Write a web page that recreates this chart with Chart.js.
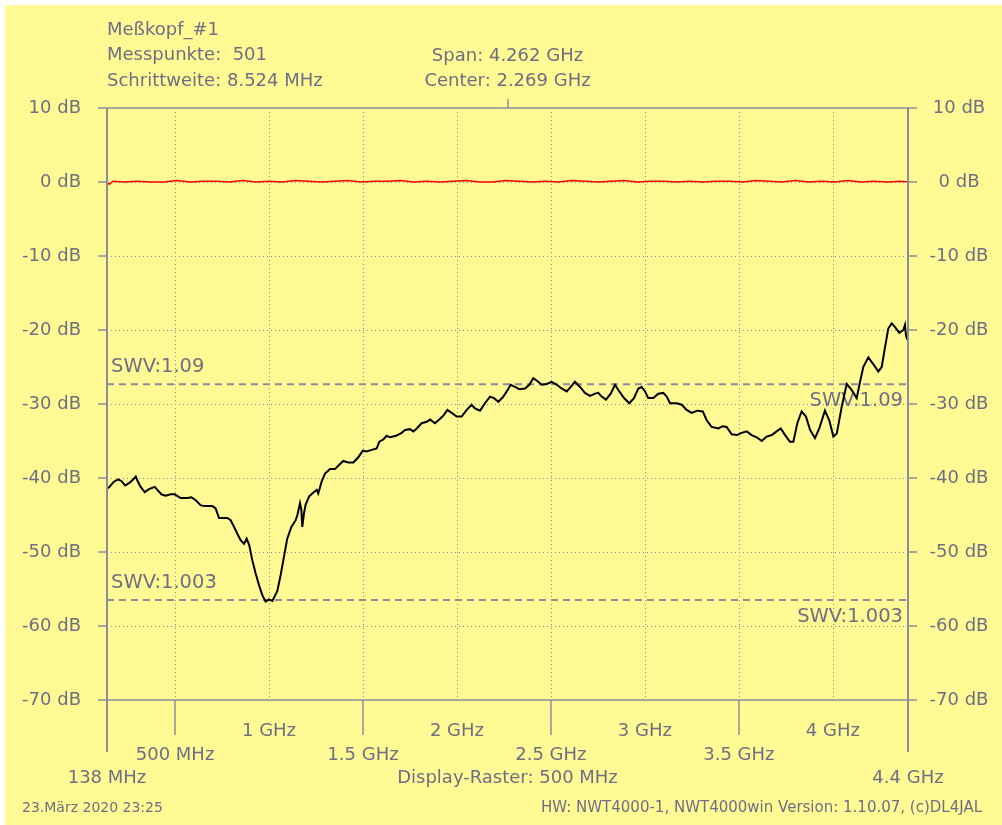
<!DOCTYPE html>
<html>
<head>
<meta charset="utf-8">
<script src="https://cdn.jsdelivr.net/npm/chart.js@4/dist/chart.umd.min.js"></script>
<style>
  html, body { margin: 0; padding: 0; background: #fff; }
  #wrap { width: 1002px; height: 825px; }
</style>
</head>
<body>
<div id="wrap"><canvas id="nwt" width="1002" height="825"></canvas></div>
<script>
// --------------------
// Data read off the sweep
// --------------------
const sweepMHz = [
  143, 158, 175, 197, 214, 235, 255, 273, 291, 299, 317, 339, 361, 392, 406, 427, 450, 477, 498, 530,
  565, 587, 610, 637, 663, 698, 716, 734, 751, 778, 796, 814, 831, 849, 867, 881, 895, 911, 929, 947,
  964, 982, 1000, 1018, 1030, 1044, 1062, 1080, 1097, 1119, 1142, 1151, 1165, 1172, 1177, 1186, 1195, 1213, 1230, 1254,
  1262, 1280, 1298, 1325, 1351, 1374, 1395, 1422, 1449, 1475, 1499, 1520, 1546, 1573, 1587, 1608, 1626, 1644, 1676, 1706,
  1724, 1750, 1768, 1786, 1812, 1839, 1857, 1883, 1906, 1927, 1949, 1972, 1999, 2025, 2052, 2078, 2096, 2123, 2149, 2176,
  2197, 2220, 2247, 2265, 2286, 2309, 2332, 2362, 2385, 2406, 2428, 2451, 2478, 2504, 2531, 2557, 2584, 2605, 2628, 2655,
  2681, 2708, 2735, 2752, 2770, 2793, 2818, 2841, 2864, 2889, 2917, 2942, 2965, 2983, 3001, 3018, 3045, 3071, 3098, 3116,
  3134, 3169, 3196, 3222, 3249, 3279, 3308, 3329, 3355, 3391, 3414, 3435, 3462, 3489, 3515, 3542, 3568, 3595, 3622, 3648,
  3675, 3701, 3723, 3746, 3772, 3790, 3811, 3834, 3857, 3879, 3905, 3928, 3958, 3981, 4003, 4021, 4047, 4074, 4100, 4127,
  4145, 4162, 4189, 4215, 4242, 4260, 4278, 4295, 4313, 4331, 4354, 4375, 4384, 4389, 4396
];
const sweepDb = [
  -41.4, -41.0, -40.5, -40.2, -40.4, -41.0, -40.7, -40.3, -39.8, -40.3, -41.2, -41.9, -41.5, -41.2, -41.6, -42.2, -42.4, -42.2, -42.2, -42.7,
  -42.7, -42.6, -43.0, -43.7, -43.8, -43.8, -44.1, -45.4, -45.4, -45.4, -45.7, -46.6, -47.5, -48.4, -48.9, -48.2, -49.1, -51.1, -52.9, -54.5,
  -55.8, -56.7, -56.4, -56.6, -56.0, -55.3, -53.1, -50.6, -48.2, -46.6, -45.7, -45.0, -43.4, -44.3, -46.6, -44.8, -43.6, -42.5, -42.1, -41.6,
  -42.1, -40.5, -39.4, -38.8, -38.8, -38.2, -37.7, -37.9, -37.9, -37.2, -36.3, -36.4, -36.2, -36.0, -35.1, -34.8, -34.3, -34.5, -34.3, -33.9,
  -33.5, -33.4, -33.7, -33.3, -32.6, -32.4, -32.1, -32.6, -32.1, -31.6, -30.8, -31.2, -31.7, -31.7, -30.8, -30.1, -30.6, -30.9, -29.9, -29.0,
  -29.2, -29.7, -29.0, -28.3, -27.4, -27.7, -28.0, -27.9, -27.4, -26.5, -26.9, -27.4, -27.3, -27.0, -27.4, -27.9, -28.3, -27.7, -27.0, -27.7,
  -28.5, -28.9, -28.6, -28.5, -29.0, -29.4, -28.6, -27.4, -28.3, -29.2, -29.9, -29.2, -27.9, -27.7, -28.3, -29.2, -29.2, -28.6, -28.5, -29.0,
  -29.9, -29.9, -30.1, -30.8, -31.2, -30.9, -31.0, -32.2, -33.1, -33.3, -33.0, -33.1, -34.1, -34.2, -33.9, -33.7, -34.2, -34.5, -35.0, -34.4,
  -34.2, -33.7, -33.3, -34.2, -35.1, -35.1, -32.6, -31.0, -31.7, -33.5, -34.6, -33.3, -30.9, -32.2, -34.4, -34.0, -30.4, -27.3, -28.1, -29.2,
  -27.0, -25.0, -23.7, -24.6, -25.6, -25.0, -22.3, -19.8, -19.1, -19.6, -20.4, -20.0, -19.3, -20.7, -21.3
];

// reference (through) trace, sits on 0 dB
const refMHz = [
  138, 150, 170, 230, 300, 370, 440, 510, 580, 650, 720, 790, 860, 930, 1000, 1070, 1140, 1210, 1280, 1350,
  1420, 1490, 1560, 1630, 1700, 1770, 1840, 1910, 1980, 2050, 2120, 2190, 2260, 2330, 2400, 2470, 2540, 2610, 2680, 2750,
  2820, 2890, 2960, 3030, 3100, 3170, 3240, 3310, 3380, 3450, 3520, 3590, 3660, 3730, 3800, 3870, 3940, 4010, 4080, 4150,
  4220, 4290, 4360, 4400
];
const refDb = [
  0.0, -0.3, 0.1, 0.0, 0.1, 0.0, 0.0, 0.2, 0.0, 0.1, 0.1, 0.0, 0.2, 0.0, 0.1, 0.0, 0.2, 0.1, 0.0, 0.1,
  0.2, 0.0, 0.1, 0.1, 0.2, 0.0, 0.1, 0.0, 0.1, 0.2, 0.0, 0.0, 0.2, 0.1, 0.0, 0.1, 0.0, 0.2, 0.1, 0.0,
  0.1, 0.2, 0.0, 0.1, 0.1, 0.0, 0.1, 0.0, 0.1, 0.1, 0.0, 0.2, 0.1, 0.0, 0.2, 0.0, 0.1, 0.0, 0.2, 0.0,
  0.1, 0.0, 0.1, 0.0
];

// SWV marker lines (return loss in dB)
const swvLabels = ["SWV:1.09", "SWV:1.003"];
const swvDb = [-27.32, -56.49];

// axes
const yTicks = [10, 0, -10, -20, -30, -40, -50, -60, -70];
const yTickLabels = ["10 dB", "0 dB", "-10 dB", "-20 dB", "-30 dB", "-40 dB", "-50 dB", "-60 dB", "-70 dB"];
const xGridMHz = [500, 1000, 1500, 2000, 2500, 3000, 3500, 4000];
const xUpperMHz = [1000, 2000, 3000, 4000];
const xUpperLabels = ["1 GHz", "2 GHz", "3 GHz", "4 GHz"];
const xLowerMHz = [500, 1500, 2500, 3500];
const xLowerLabels = ["500 MHz", "1.5 GHz", "2.5 GHz", "3.5 GHz"];
const startMHz = 138, stopMHz = 4400, centerMHz = 2269;

// header / footer texts
const headerLeft = ["Meßkopf_#1", "Messpunkte:  501", "Schrittweite: 8.524 MHz"];
const headerMid = ["Span: 4.262 GHz", "Center: 2.269 GHz"];
const startLabel = "138 MHz", stopLabel = "4.4 GHz", rasterLabel = "Display-Raster: 500 MHz";
const footerLeft = "23.März 2020 23:25";
const footerRight = "HW: NWT4000-1, NWT4000win Version: 1.10.07, (c)DL4JAL";

// --------------------
// Look
// --------------------
const BG = "#fffa94";
const AXIS = "#8c8c9c";
const TEXT = "#6e6e84";
const FONT = '"DejaVu Sans", sans-serif';

function pts(xs, ys) {
  return xs.map((x, i) => ({ x: x, y: ys[i] }));
}

// --------------------
// Frame plugin: background, raster, axes, texts
// --------------------
const nwtFrame = {
  id: "nwtFrame",
  beforeDraw(chart) {
    const c = chart.ctx;
    c.save();
    c.fillStyle = "#ffffff";
    c.fillRect(0, 0, chart.width, chart.height);
    c.fillStyle = BG;
    c.fillRect(5, 5, chart.width - 5, chart.height - 5);
    c.restore();
  },
  beforeDatasetsDraw(chart) {
    const c = chart.ctx, a = chart.chartArea;
    const xs = chart.scales.x, ys = chart.scales.y;
    c.save();
    // dotted raster
    c.strokeStyle = AXIS;
    c.lineWidth = 1;
    c.setLineDash([1, 3]);
    xGridMHz.forEach(f => {
      const x = Math.round(xs.getPixelForValue(f)) + 0.5;
      c.beginPath(); c.moveTo(x, a.top); c.lineTo(x, a.bottom); c.stroke();
    });
    yTicks.slice(1, -1).forEach(v => {
      const y = Math.round(ys.getPixelForValue(v)) + 0.5;
      c.beginPath(); c.moveTo(a.left, y); c.lineTo(a.right, y); c.stroke();
    });
    // SWV labels, under the trace
    c.setLineDash([]);
    c.fillStyle = TEXT;
    c.font = "19.5px " + FONT;
    c.textBaseline = "middle";
    swvDb.forEach((v, i) => {
      const y = ys.getPixelForValue(v);
      c.textAlign = "left";
      c.fillText(swvLabels[i], a.left + 4, y - 17);
      c.textAlign = "right";
      c.fillText(swvLabels[i], a.right - 5, y + 17);
    });
    c.restore();
  },
  afterDatasetsDraw(chart) {
    const c = chart.ctx, a = chart.chartArea;
    const xs = chart.scales.x, ys = chart.scales.y;
    c.save();
    c.strokeStyle = AXIS;
    c.lineWidth = 2;
    // left / right axis
    c.beginPath();
    c.moveTo(a.left, a.top); c.lineTo(a.left, a.bottom + 52);
    c.moveTo(a.right, a.top); c.lineTo(a.right, a.bottom + 52);
    c.stroke();
    // level ticks, full lines at top and bottom
    c.lineWidth = 1.5;
    yTicks.forEach((v, i) => {
      const y = Math.round(ys.getPixelForValue(v));
      c.beginPath();
      if (i === 0 || i === yTicks.length - 1) {
        c.moveTo(a.left - 9, y); c.lineTo(a.right + 9, y);
      } else {
        c.moveTo(a.left - 9, y); c.lineTo(a.left, y);
        c.moveTo(a.right, y); c.lineTo(a.right + 9, y);
      }
      c.stroke();
    });
    // frequency ticks
    xLowerMHz.forEach(f => {
      const x = Math.round(xs.getPixelForValue(f));
      c.beginPath(); c.moveTo(x, a.bottom); c.lineTo(x, a.bottom + 35); c.stroke();
    });
    const cx = Math.round(xs.getPixelForValue(centerMHz));
    c.beginPath(); c.moveTo(cx, a.top); c.lineTo(cx, a.top - 9); c.stroke();

    // texts
    c.fillStyle = TEXT;
    c.font = "18px " + FONT;
    c.textBaseline = "middle";
    yTicks.forEach((v, i) => {
      const y = ys.getPixelForValue(v);
      c.textAlign = "right";
      c.fillText(yTickLabels[i], a.left - 26, y);
      c.textAlign = "center";
      c.fillText(yTickLabels[i], a.right + 51, y);
    });
    c.textAlign = "center";
    xUpperMHz.forEach((f, i) => c.fillText(xUpperLabels[i], xs.getPixelForValue(f), a.bottom + 31));
    xLowerMHz.forEach((f, i) => c.fillText(xLowerLabels[i], xs.getPixelForValue(f), a.bottom + 55));
    c.fillText(startLabel, xs.getPixelForValue(startMHz), a.bottom + 78);
    c.fillText(stopLabel, xs.getPixelForValue(stopMHz), a.bottom + 78);
    c.fillText(rasterLabel, xs.getPixelForValue(centerMHz), a.bottom + 78);

    c.textAlign = "left";
    headerLeft.forEach((t, i) => c.fillText(t, a.left, 30 + i * 25.5));
    c.textAlign = "center";
    headerMid.forEach((t, i) => c.fillText(t, xs.getPixelForValue(centerMHz), 56 + i * 25.5));

    c.textAlign = "left";
    c.font = "14px " + FONT;
    c.fillText(footerLeft, 22, 808);
    c.textAlign = "right";
    c.font = "15px " + FONT;
    c.fillText(footerRight, 982, 808);
    c.restore();
  }
};

// --------------------
// Chart
// --------------------
const datasets = [
  {
    label: "Messkanal",
    data: pts(sweepMHz, sweepDb),
    borderColor: "#000000",
    borderWidth: 2,
    order: 0
  },
  {
    label: "Referenz",
    data: pts(refMHz, refDb),
    borderColor: "#ff0000",
    borderWidth: 1.5,
    order: 1
  }
];
swvDb.forEach((v, i) => {
  datasets.push({
    label: swvLabels[i],
    data: pts([startMHz, stopMHz], [v, v]),
    borderColor: AXIS,
    borderWidth: 2,
    borderDash: [7, 5],
    order: 2
  });
});

new Chart(document.getElementById("nwt"), {
  type: "line",
  data: { datasets: datasets },
  options: {
    responsive: false,
    animation: false,
    devicePixelRatio: 1,
    layout: { padding: { left: 107, top: 108, right: 94, bottom: 125 } },
    elements: { point: { radius: 0 }, line: { tension: 0 } },
    plugins: { legend: { display: false }, tooltip: { enabled: false } },
    scales: {
      x: { type: "linear", min: startMHz, max: stopMHz, display: false },
      y: { type: "linear", min: -70, max: 10, display: false }
    }
  },
  plugins: [nwtFrame]
});
</script>
</body>
</html>
